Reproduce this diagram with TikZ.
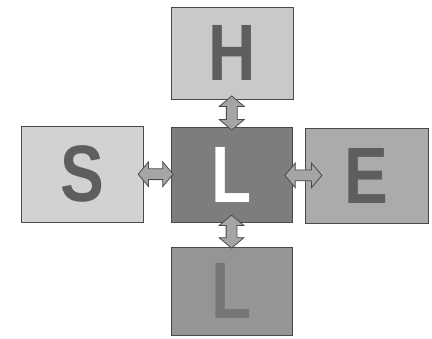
\documentclass[tikz,border=0pt]{standalone}
\usepackage{fontspec}
\setmainfont{Liberation Sans}
\usetikzlibrary{shapes.arrows,calc}
\definecolor{hfill}{HTML}{C9C9C9}
\definecolor{sfill}{HTML}{D2D2D2}
\definecolor{cfill}{HTML}{7D7D7D}
\definecolor{efill}{HTML}{ABABAB}
\definecolor{bfill}{HTML}{959595}
\definecolor{letdark}{HTML}{5E5E5E}
\definecolor{letbot}{HTML}{767676}
\definecolor{arrfill}{HTML}{A5A5A5}
\definecolor{edge}{HTML}{4A4A4A}
\tikzset{
  box/.style={draw=edge, line width=0.8pt, inner sep=0pt, font=\bfseries\fontsize{80}{80}\selectfont},
  darrow/.style={double arrow, draw=edge, fill=arrfill, line width=0.8pt, inner sep=5pt,
    double arrow head extend=7pt, double arrow tip angle=100},
}
\newcommand{\narrow}[1]{\scalebox{0.82}[1]{#1}}
\begin{document}
\begin{tikzpicture}[x=1pt,y=-1pt]
\useasboundingbox[fill=white] (0,0) rectangle (432,339);
\node[box, fill=hfill, text=letdark, minimum width=122pt, minimum height=92pt] (H) at (232,53) {\narrow{H}};
\node[box, fill=sfill, text=letdark, minimum width=122pt, minimum height=96pt] (S) at (82,174) {\narrow{S}};
\node[box, fill=cfill, text=white, minimum width=121pt, minimum height=95pt] (C) at (231.5,174.5) {\narrow{L}};
\node[box, fill=efill, text=letdark, minimum width=123pt, minimum height=95pt] (E) at (366.5,175.5) {\narrow{E}};
\node[box, fill=bfill, text=letbot, minimum width=121pt, minimum height=88pt] (B) at (231.5,291) {\narrow{L}};
\path (H.south) -- (C.north) node[darrow, midway, rotate=90, minimum height=34pt] (a1) {};
\path (S.east) -- (C.west) node[darrow, pos=0.45, minimum height=35pt] (a2) {};
\path (C.east) -- (E.west) node[darrow, pos=0.9, minimum height=37pt] (a3) {};
\path (C.south) -- (B.north) node[darrow, pos=0.38, rotate=90, minimum height=33pt] (a4) {};
\end{tikzpicture}
\end{document}
